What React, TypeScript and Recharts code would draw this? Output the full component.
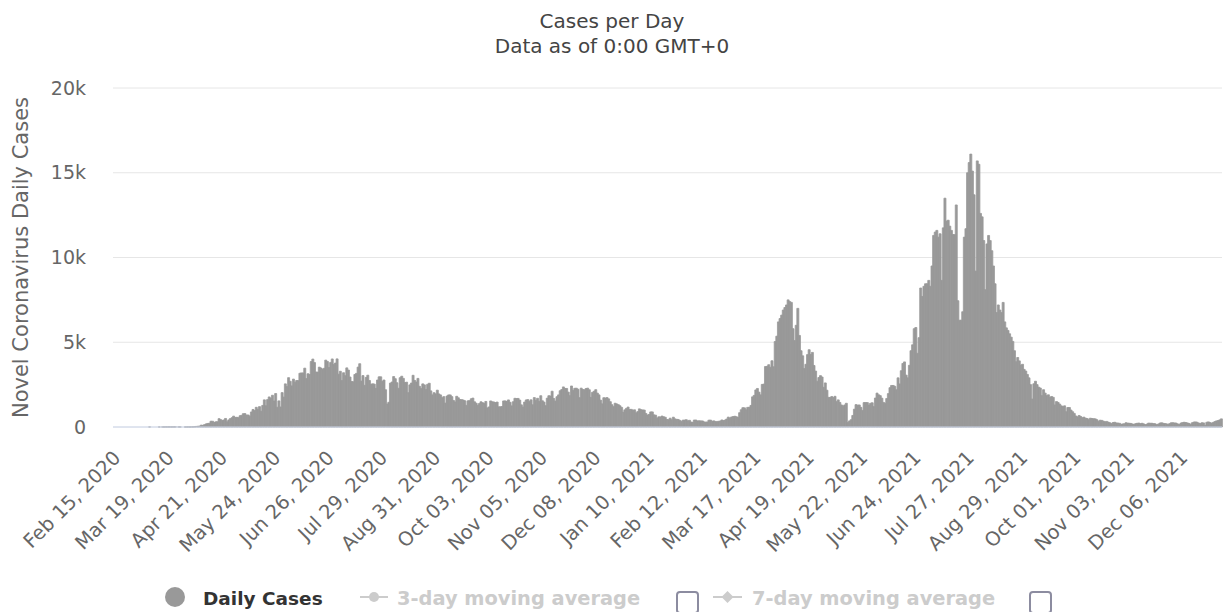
import { BarChart, Bar, XAxis, YAxis, CartesianGrid } from "recharts";

// daily new cases (Feb 15, 2020 .. Dec 31, 2021)
const feb2020 = [0, 0, 0, 0, 0, 0, 0, 0, 0, 0, 0, 0, 0, 0, 0];
const mar2020 = [0, 0, 0, 0, 0, 0, 0, 3, 0, 0, 0, 0, 0, 2, 0, 3, 2, 4, 3, 7, 4, 3, 6, 6, 0, 5, 4, 0, 0, 1, 2];
const apr2020 = [3, 2, 5, 9, 18, 35, 41, 54, 112, 94, 139, 182, 209, 219, 341, 341, 266, 306, 312, 492, 434, 390, 414, 503, 309, 418, 497, 549, 641, 564];
const may2020 = [571, 552, 665, 688, 786, 790, 706, 709, 636, 887, 1034, 969, 1162, 1041, 1202, 930, 1273, 1602, 1251, 1617, 1773, 1694, 1873, 1532, 1975, 1166, 1541, 1182, 2029, 1764, 2545];
const jun2020 = [2381, 2911, 2695, 2423, 2828, 2635, 2743, 2735, 3171, 3190, 3187, 3471, 2856, 3141, 3099, 3862, 4008, 3803, 3243, 3240, 3531, 3480, 3412, 3462, 3946, 3868, 3504, 3809, 4014, 3682];
const jul2020 = [3775, 4019, 3114, 3288, 2738, 3201, 3027, 3489, 3360, 2949, 2686, 2666, 3099, 3163, 3533, 3733, 2709, 3034, 2459, 2928, 3057, 2744, 2520, 2548, 2532, 2275, 2772, 2960, 2960, 2695, 2772];
const aug2020 = [2199, 1356, 1459, 2589, 2654, 2977, 2851, 2611, 2285, 2907, 2996, 2868, 2617, 2644, 2024, 2487, 2595, 3050, 2747, 2654, 2868, 2401, 2265, 2545, 2485, 2211, 2519, 2582, 2131, 1897, 2024];
const sep2020 = [1950, 2173, 1950, 1892, 1725, 1792, 1412, 1827, 1892, 1892, 1792, 1567, 1476, 1812, 1724, 1615, 1615, 1593, 1548, 1275, 1544, 1557, 1666, 1705, 1488, 1407, 1282, 1383, 1488, 1436];
const oct2020 = [1385, 1508, 1125, 1182, 1537, 1488, 1474, 1442, 1472, 1189, 1193, 1209, 1537, 1540, 1508, 1598, 1459, 1247, 1492, 1692, 1681, 1686, 1586, 1308, 1178, 1472, 1596, 1616, 1517, 1604, 1311];
const nov2020 = [1736, 1568, 1694, 1517, 1845, 1548, 1471, 1260, 1700, 1846, 1829, 2111, 1684, 1531, 1788, 1895, 2139, 2212, 2364, 2275, 2275, 2060, 1847, 2419, 2156, 2282, 2290, 2228, 1733, 2293];
const dec2020 = [2212, 2198, 2268, 2293, 2198, 1743, 2045, 2110, 2202, 2001, 1895, 1584, 1364, 1728, 1711, 1736, 1660, 1493, 1315, 1202, 1402, 1361, 1317, 1251, 1157, 873, 1014, 1100, 1177, 1036, 1041];
const jan2021 = [988, 1014, 835, 910, 1070, 1019, 1007, 1000, 800, 707, 741, 890, 890, 716, 698, 525, 602, 592, 646, 604, 574, 445, 433, 521, 431, 579, 478, 454, 445, 391, 330];
const feb2021 = [402, 410, 430, 359, 394, 291, 281, 412, 409, 357, 367, 356, 358, 299, 291, 295, 402, 407, 335, 363, 329, 306, 339, 350, 415, 386, 407, 470];
const mar2021 = [585, 515, 591, 614, 635, 605, 564, 845, 1018, 1138, 1131, 1014, 1159, 1159, 1273, 1779, 1865, 2187, 2274, 2056, 1896, 2513, 2529, 3567, 3577, 3674, 3527, 3908, 3554, 5042, 5358];
const apr2021 = [6200, 6400, 6600, 6900, 7050, 7200, 7500, 7400, 7350, 5800, 5100, 6000, 7000, 5400, 4500, 4200, 3450, 3700, 4270, 4560, 4280, 4400, 3630, 3300, 2700, 2920, 3030, 2950, 2340, 2600];
const may2021 = [2170, 1750, 1740, 1800, 1740, 1810, 1500, 1600, 1450, 1300, 1230, 1300, 1400, 260, 360, 430, 680, 1050, 1320, 1290, 1300, 1160, 980, 1440, 1440, 1440, 1290, 1400, 1430, 1200, 1710];
const jun2021 = [2000, 1900, 1850, 1700, 1450, 1400, 1680, 1970, 2320, 2450, 2450, 2400, 2200, 2900, 2540, 3320, 3750, 3840, 3060, 2900, 3640, 4500, 4850, 5800, 5870, 4350, 5270, 8200, 7700, 8300];
const jul2021 = [8450, 8450, 8650, 8300, 9500, 11300, 11500, 11600, 11200, 11400, 8650, 11750, 13500, 12150, 12200, 11850, 11600, 11350, 11350, 13100, 7450, 6300, 6300, 6800, 11200, 11700, 15000, 15600, 16100, 15100, 13700];
const aug2021 = [9200, 15700, 15500, 12600, 12400, 11000, 8100, 10800, 11300, 11000, 10400, 9500, 8450, 6750, 7200, 6900, 6750, 7350, 6200, 5850, 5700, 5500, 5300, 5050, 4500, 3850, 4100, 3900, 3650, 3700, 3400];
const sep2021 = [3300, 3100, 2900, 2500, 1650, 2550, 2700, 2500, 2350, 2300, 1850, 2200, 2000, 1850, 1900, 1750, 1800, 1750, 1300, 1500, 1450, 1350, 1250, 1200, 1250, 900, 1150, 1150, 1000, 900];
const oct2021 = [800, 650, 600, 680, 620, 550, 580, 520, 500, 430, 520, 500, 490, 480, 430, 340, 400, 390, 350, 300, 330, 290, 250, 200, 260, 280, 240, 230, 220, 160, 180];
const nov2021 = [190, 250, 230, 220, 210, 180, 150, 200, 220, 230, 200, 220, 180, 140, 170, 230, 220, 220, 200, 190, 140, 170, 230, 250, 220, 200, 190, 140, 200, 250];
const dec2021 = [250, 240, 230, 180, 150, 230, 260, 280, 260, 240, 210, 160, 250, 290, 300, 280, 230, 210, 250, 240, 100, 280, 300, 260, 230, 270, 320, 360, 380, 420, 480];

const dailyCases = [
  ...feb2020, ...mar2020, ...apr2020, ...may2020, ...jun2020, ...jul2020,
  ...aug2020, ...sep2020, ...oct2020, ...nov2020, ...dec2020,
  ...jan2021, ...feb2021, ...mar2021, ...apr2021, ...may2021, ...jun2021,
  ...jul2021, ...aug2021, ...sep2021, ...oct2021, ...nov2021, ...dec2021,
];

const yTicks = [0, 5000, 10000, 15000, 20000];
const titleLines = ["Cases per Day", "Data as of 0:00 GMT+0"];
const yTitle = "Novel Coronavirus Daily Cases";
const legendNames = ["Daily Cases", "3-day moving average", "7-day moving average"];

const MONTHS = ["Jan", "Feb", "Mar", "Apr", "May", "Jun", "Jul", "Aug", "Sep", "Oct", "Nov", "Dec"];
const START = Date.UTC(2020, 1, 15);
const DAY = 86400000;

function fmtDate(t: number) {
  const d = new Date(t);
  const dd = String(d.getUTCDate()).padStart(2, "0");
  return `${MONTHS[d.getUTCMonth()]} ${dd}, ${d.getUTCFullYear()}`;
}

const data = dailyCases.map((cases, i) => ({ date: fmtDate(START + i * DAY), cases }));

const FONT = "'DejaVu Sans', Verdana, sans-serif";

function DateTick({ x, y, payload }: any) {
  const ax = x + 8;
  const ay = y + 32;
  return (
    <text
      x={ax}
      y={ay}
      transform={`rotate(-45 ${ax} ${ay})`}
      textAnchor="end"
      fontSize={19.5}
      fill="#666"
      fontFamily={FONT}
    >
      {payload.value}
    </text>
  );
}

function Checkbox({ x }: { x: number }) {
  return <rect x={x} y={592} width={21} height={21} rx={3} fill="#fff" stroke="#8c8ca0" strokeWidth={2} />;
}

function LegendRow() {
  const bold = { fontWeight: 700, fontFamily: FONT };
  return (
    <g>
      <circle cx={175} cy={597} r={10} fill="#999" />
      <text x={203} y={605} fill="#333" fontSize={18.5} {...bold}>{legendNames[0]}</text>

      <line x1={360} x2={388} y1={597} y2={597} stroke="#ccc" strokeWidth={2} />
      <circle cx={374} cy={597} r={5} fill="#ccc" />
      <text x={397} y={605} fill="#ccc" fontSize={19.4} {...bold}>{legendNames[1]}</text>
      <Checkbox x={677} />

      <line x1={713} x2={742} y1={597} y2={597} stroke="#ccc" strokeWidth={2} />
      <path d="M727.5 591 L733.5 597 L727.5 603 L721.5 597 Z" fill="#ccc" />
      <text x={752} y={605} fill="#ccc" fontSize={19.4} {...bold}>{legendNames[2]}</text>
      <Checkbox x={1030} />
    </g>
  );
}

export default function App() {
  return (
    <div style={{ width: 1224, height: 612, background: "#fff" }}>
      <style>{`body{margin:0}`}</style>
      <BarChart
        width={1224}
        height={612}
        data={data}
        margin={{ top: 88, right: 2, bottom: 125, left: 0 }}
        barCategoryGap={0}
        barGap={0}
      >
        <text x={612} y={28} textAnchor="middle" fontSize={20} fill="#444" fontFamily={FONT}>
          {titleLines[0]}
        </text>
        <text x={612} y={53} textAnchor="middle" fontSize={20} fill="#444" fontFamily={FONT}>
          {titleLines[1]}
        </text>
        <text
          x={28}
          y={257.5}
          transform="rotate(-90 28 257.5)"
          textAnchor="middle"
          fontSize={21}
          fill="#666"
          fontFamily={FONT}
        >
          {yTitle}
        </text>
        <CartesianGrid vertical={false} stroke="#e6e6e6" />
        <XAxis
          dataKey="date"
          interval={32}
          height={60}
          tickLine={false}
          tickSize={0}
          tickMargin={0}
          axisLine={{ stroke: "#ccd6eb" }}
          tick={<DateTick />}
        />
        <YAxis
          width={113}
          domain={[0, 20000]}
          ticks={yTicks}
          axisLine={false}
          tickLine={false}
          tickSize={0}
          tickMargin={27}
          tickFormatter={(v: number) => (v === 0 ? "0" : `${v / 1000}k`)}
          tick={{ fontSize: 19, fill: "#666", fontFamily: FONT }}
        />
        <Bar
          dataKey="cases"
          fill="#999999"
          stroke="#999999"
          strokeWidth={0.8}
          isAnimationActive={false}
        />
        <LegendRow />
      </BarChart>
    </div>
  );
}
